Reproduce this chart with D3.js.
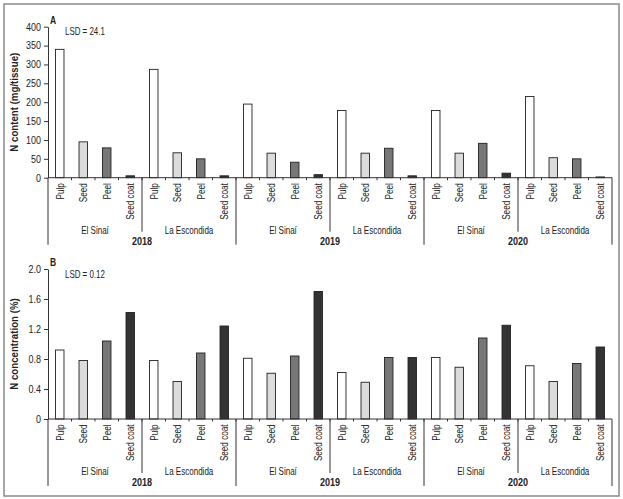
<!DOCTYPE html>
<html>
<head>
<meta charset="utf-8">
<script src="https://cdn.jsdelivr.net/npm/d3@7"></script>
<style>
  html, body { margin: 0; padding: 0; background: #fff; }
  svg text { font-family: "Liberation Sans", Arial, sans-serif; fill: #222; }
</style>
</head>
<body>
<svg id="chart" width="623" height="499"></svg>
<script>
const years = ["2018", "2019", "2020"];
const locations = ["El Sinaí", "La Escondida"];
const tissues = ["Pulp", "Seed", "Peel", "Seed coat"];
const tissueColors = ["#ffffff", "#dcdcdc", "#777777", "#333333"];
// Order: year -> location -> tissue
const nContent = [340, 95, 79, 5,   287, 66, 50, 5,
                  195, 65, 41, 8,   178, 65, 78, 5,
                  178, 65, 91, 12,  215, 53, 50, 2];
const nConc = [0.92, 0.78, 1.04, 1.42,  0.78, 0.50, 0.88, 1.24,
               0.81, 0.61, 0.84, 1.70,  0.62, 0.49, 0.82, 0.82,
               0.82, 0.69, 1.08, 1.25,  0.71, 0.50, 0.74, 0.96];
const contentTicks = [0, 50, 100, 150, 200, 250, 300, 350, 400];
const concTicks = [0, 0.4, 0.8, 1.2, 1.6, 2.0];
const concTickLabels = ["0", "0.4", "0.8", "1.2", "1.6", "2.0"];

const svg = d3.select("#chart");

// outer frame
svg.append("rect").attr("x", 4).attr("y", 4).attr("width", 615).attr("height", 492)
  .attr("fill", "none").attr("stroke", "#8a8a8a").attr("stroke-width", 1.5);

const cats = [];
years.forEach((y, yi) => locations.forEach((l, li) => tissues.forEach((t, ti) => {
  cats.push({ year: y, loc: l, tissue: t, ti, idx: cats.length });
})));

const x = d3.scaleBand().domain(d3.range(cats.length)).range([48, 612]).padding(0);

function narrowText(g, tx, ty, rot, txt, size, sx, anchor, weight, fill) {
  return g.append("text")
    .attr("transform", `translate(${tx},${ty})${rot ? ` rotate(${rot})` : ""} scale(${sx},1)`)
    .attr("text-anchor", anchor).attr("font-size", size)
    .attr("font-weight", weight || "normal").attr("fill", fill || "#333")
    .text(txt);
}

function panel(opts) {
  const { values, domainMax, ticks, tickLabels, yTop, yBottom, title, letter, lsd } = opts;
  const g = svg.append("g");
  const y = d3.scaleLinear().domain([0, domainMax]).range([yBottom, yTop]);
  const x0 = x.range()[0];

  // y axis
  const yAxis = d3.axisLeft(y).tickValues(ticks).tickSize(4).tickSizeOuter(0)
    .tickFormat((d, i) => tickLabels ? tickLabels[i] : d);
  const ya = g.append("g").attr("transform", `translate(${x0},0)`).call(yAxis);
  ya.select(".domain").attr("stroke", "#333");
  ya.selectAll(".tick line").attr("stroke", "#333");
  ya.selectAll(".tick text")
    .attr("font-size", 10.5).attr("fill", "#333")
    .style("font-family", '"Liberation Sans", Arial, sans-serif')
    .attr("transform", function () {
      const xx = +d3.select(this).attr("x");
      return `translate(${xx},0) scale(0.85,1)`;
    })
    .attr("x", 0);

  // bars
  const bw = x.bandwidth() * 0.36;
  g.selectAll("rect.bar").data(cats).join("rect")
    .attr("class", "bar")
    .attr("x", d => x(d.idx) + (x.bandwidth() - bw) / 2)
    .attr("width", bw)
    .attr("y", d => y(values[d.idx]))
    .attr("height", d => y(0) - y(values[d.idx]))
    .attr("fill", d => tissueColors[d.ti])
    .attr("stroke", "#222").attr("stroke-width", 0.9);

  // x axis line
  g.append("line").attr("x1", x0).attr("x2", x.range()[1])
    .attr("y1", y(0)).attr("y2", y(0)).attr("stroke", "#333").attr("stroke-width", 1);

  // minor ticks between categories
  g.selectAll("line.xt").data(d3.range(1, cats.length)).join("line")
    .attr("x1", i => x(i)).attr("x2", i => x(i))
    .attr("y1", y(0)).attr("y2", y(0) + 2.5).attr("stroke", "#333");

  // category labels
  cats.forEach(d => {
    narrowText(g, x(d.idx) + x.bandwidth() / 2 + 4, y(0) + 5.5, -90, d.tissue, 11, 0.74, "end");
  });

  // separators
  const groupW = x.bandwidth() * 4;
  for (let k = 0; k <= 6; k++) {
    const xx = x0 + k * groupW;
    const isYear = (k % 2 === 0);
    g.append("line").attr("x1", xx).attr("x2", xx)
      .attr("y1", y(0)).attr("y2", y(0) + (isYear ? 67 : 54))
      .attr("stroke", "#333").attr("stroke-width", 1);
  }

  // location labels
  cats.filter(d => d.ti === 0).forEach(d => {
    narrowText(g, x(d.idx) + groupW / 2, y(0) + 56, 0, d.loc, 11, 0.73, "middle");
  });
  // year labels
  years.forEach((yr, yi) => {
    narrowText(g, x0 + yi * groupW * 2 + groupW, y(0) + 67, 0, yr, 11, 0.82, "middle", "bold", "#111");
  });

  // y title
  narrowText(g, 18, (yTop + yBottom) / 2, -90, title, 11, 0.88, "middle", "bold", "#111");

  // panel letter
  narrowText(g, 50, yTop - 3, 0, letter, 10, 0.85, "start", "bold", "#111");

  // LSD
  narrowText(g, 65, yTop + 8.5, 0, lsd, 11, 0.72, "start");
}

panel({ values: nContent, domainMax: 400, ticks: contentTicks, tickLabels: null,
  yTop: 26.7, yBottom: 177.7, title: "N content (mg/tissue)", letter: "A", lsd: "LSD = 24.1" });
panel({ values: nConc, domainMax: 2.0, ticks: concTicks, tickLabels: concTickLabels,
  yTop: 269, yBottom: 419, title: "N concentration (%)", letter: "B", lsd: "LSD = 0.12" });
</script>
</body>
</html>
